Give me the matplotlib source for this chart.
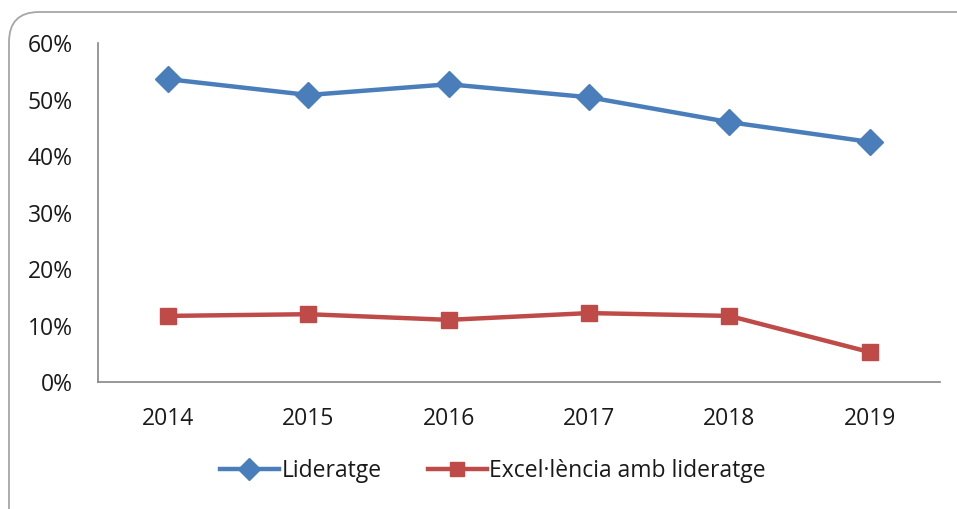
import matplotlib.pyplot as plt
from matplotlib.patches import FancyBboxPatch
from matplotlib.ticker import PercentFormatter

# dades llegides del gràfic
anys = ['2014', '2015', '2016', '2017', '2018', '2019']
lideratge = [53.6, 50.8, 52.7, 50.4, 46.0, 42.5]
excel_lideratge = [11.7, 12.0, 11.0, 12.2, 11.7, 5.3]

plt.rcParams['font.family'] = ['Open Sans', 'DejaVu Sans']

fig = plt.figure(figsize=(9.57, 5.09), dpi=100)
ax = fig.add_axes([0.1024, 0.2495, 0.8796, 0.666])

# marc arrodonit de la figura
marc = FancyBboxPatch((9, -40), 1000, 509 - 12 + 40,
                      boxstyle='round,pad=0,rounding_size=30',
                      transform=None, fill=False, edgecolor='#a6a6a6',
                      linewidth=1.3, clip_on=False)
fig.patches.append(marc)

x = list(range(len(anys)))
ax.plot(x, lideratge, color='#4a7ebb', lw=3.2, marker='D', markersize=13,
        label='Lideratge')
ax.plot(x, excel_lideratge, color='#be4b48', lw=3.2, marker='s', markersize=12,
        label='Excel·lència amb lideratge')

ax.set_xlim(-0.5, len(anys) - 0.5)
ax.set_ylim(0, 60)
ax.set_yticks(range(0, 61, 10))
ax.yaxis.set_major_formatter(PercentFormatter(decimals=0))
ax.set_xticks(x)
ax.set_xticklabels(anys)
ax.tick_params(length=0, labelsize=16.5, colors='#1a1a1a')
ax.tick_params(axis='y', pad=18)
ax.tick_params(axis='x', pad=18)

for s in ['top', 'right']:
    ax.spines[s].set_visible(False)
for s in ['left', 'bottom']:
    ax.spines[s].set_color('#868686')
    ax.spines[s].set_linewidth(1.2)

leg = fig.legend(loc='center', bbox_to_anchor=(0.515, 0.075), ncol=2, frameon=False,
                 fontsize=16.5, handlelength=2.6, handletextpad=0.1, columnspacing=2.0,
                 markerscale=0.85)
for t in leg.get_texts():
    t.set_color('#1a1a1a')

fig.savefig('out.png', dpi=100)
